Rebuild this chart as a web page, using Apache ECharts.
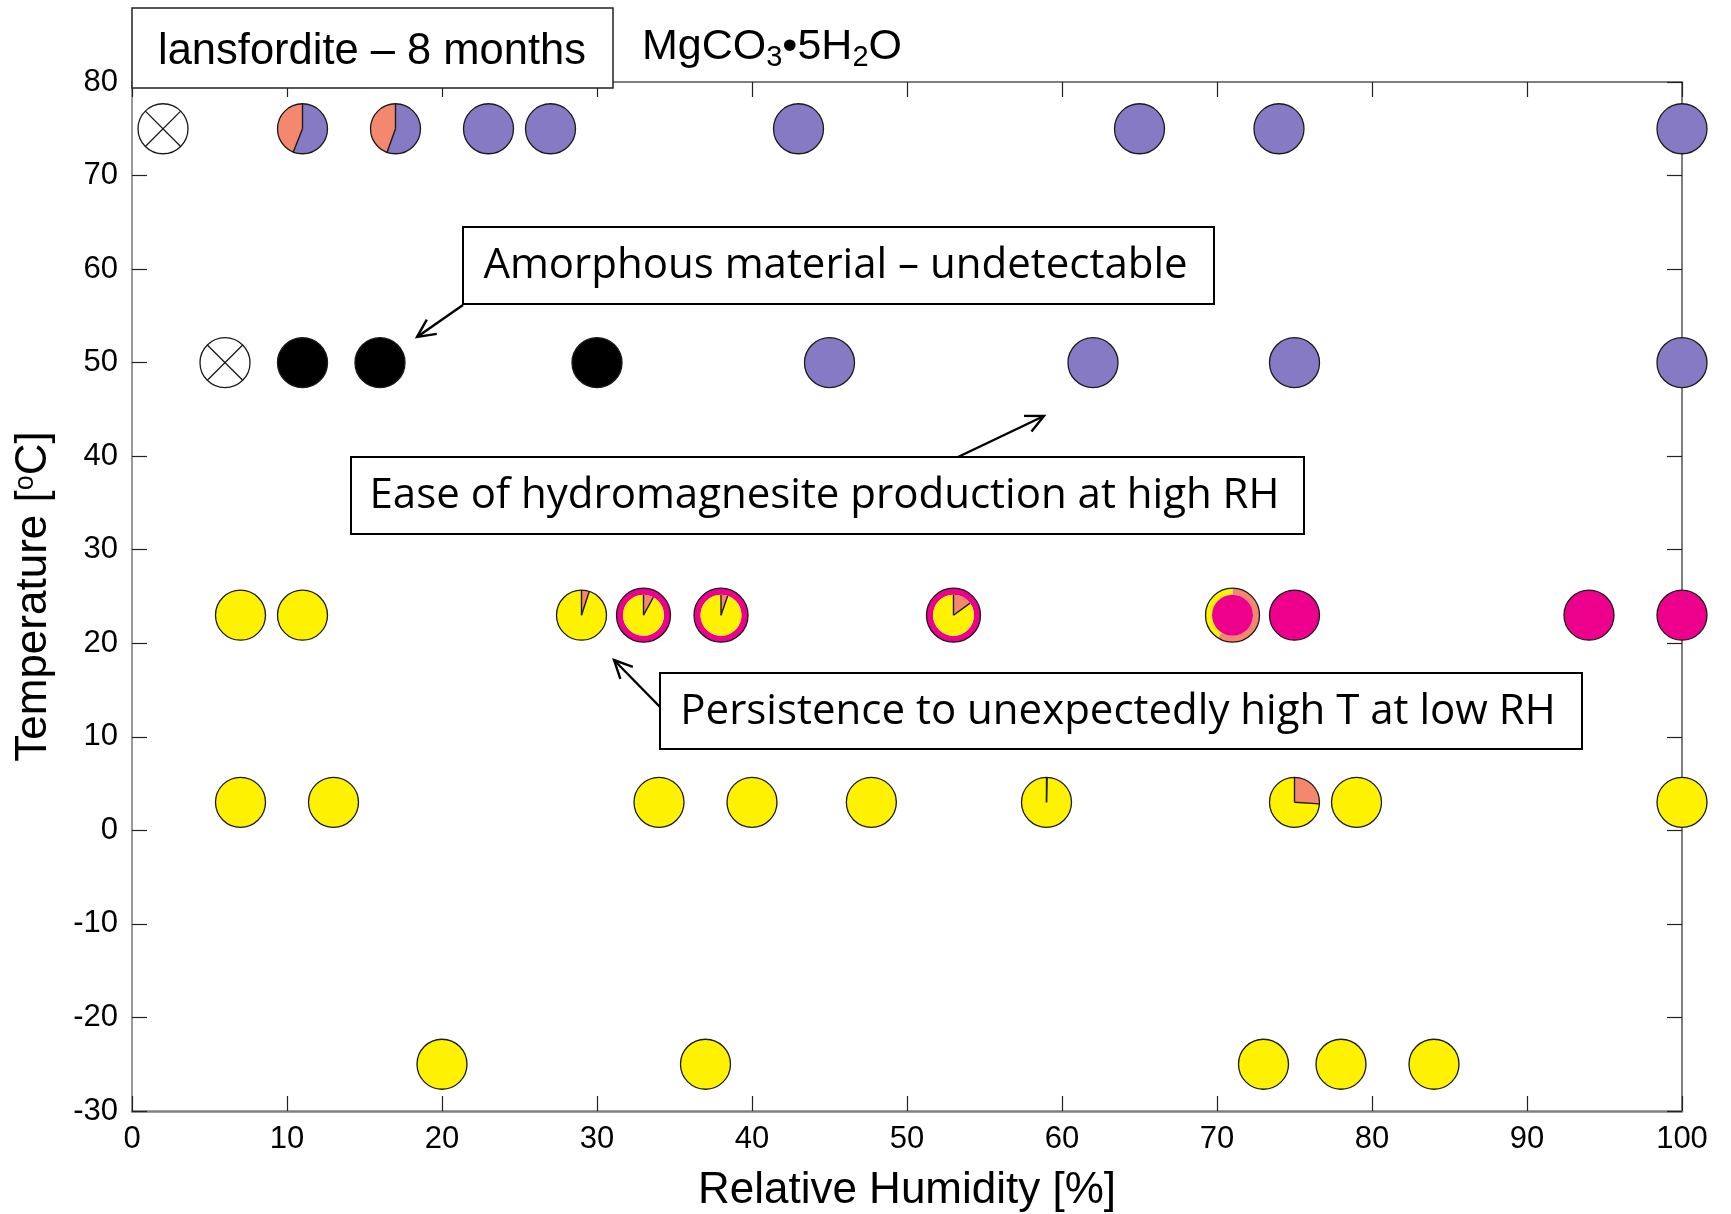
<!DOCTYPE html>
<html>
<head>
<meta charset="utf-8">
<title>lansfordite – 8 months</title>
<script src="https://cdn.jsdelivr.net/npm/echarts@6/dist/echarts.min.js"></script>
<style>
  html, body { margin: 0; padding: 0; background: #fff; }
  #chart { width: 1731px; height: 1214px; }
</style>
</head>
<body>
<div id="chart"></div>
<script>
// ------------------------------------------------------------------
// data — one row of samples per storage temperature
// ------------------------------------------------------------------
const tempRows = [75, 50, 23, 3, -25];

const rh75 = [2, 11, 17, 23, 27, 43, 65, 74, 100];
const rh50 = [6, 11, 16, 30, 45, 62, 75, 100];
const rh23 = [7, 11, 29, 33, 38, 53, 71, 75, 94, 100];
const rh3 = [7, 13, 34, 40, 47.7, 59, 75, 79, 100];
const rhMinus25 = [20, 37, 73, 78, 84];

// phase fractions, clockwise from 12 o'clock
// L lansfordite, N nesquehonite, D dypingite, H hydromagnesite, A amorphous, X no result
const pie75 = ['X', [['H', 0.56], ['D', 0.44]], [['H', 0.555], ['D', 0.445]], 'H', 'H', 'H', 'H', 'H', 'H'];
const pie50 = ['X', 'A', 'A', 'A', 'H', 'H', 'H', 'H'];
const pie23 = ['L', 'L', [['D', 0.05], ['L', 0.95]], [['D', 0.08], ['L', 0.92]], [['D', 0.053], ['L', 0.947]],
  [['D', 0.15], ['L', 0.85]], 'N', 'N', 'N', 'N'];
const pie3 = ['L', 'L', 'L', 'L', 'L', [['D', 0.004], ['L', 0.996]], [['D', 0.26], ['L', 0.74]], 'L', 'L'];
const pieMinus25 = ['L', 'L', 'L', 'L', 'L'];

// outer ring (surface phase) where present
const ring23 = [null, null, null, 'N', 'N', 'N', [['D', 0.59], ['L', 0.41]], null, null, null];

const rowRH = [rh75, rh50, rh23, rh3, rhMinus25];
const rowPies = [pie75, pie50, pie23, pie3, pieMinus25];
const rowRings = [[], [], ring23, [], []];

const phaseColors = {
  L: '#fff200',
  N: '#ec008c',
  D: '#f4886e',
  H: '#857ac3',
  A: '#000000',
  X: '#ffffff',
};

// ------------------------------------------------------------------
// build series data: [RH, T, row, col]
// ------------------------------------------------------------------
const points = [];
rowRH.forEach((list, row) => {
  list.forEach((rh, col) => points.push([rh, tempRows[row], row, col]));
});

function toSlices(spec) {
  if (typeof spec === 'string') return [[spec, 1]];
  return spec;
}

const EDGE = '#1a1a1a';

function addSlices(children, c, slices, r0, r) {
  let acc = 0;
  slices.forEach(([phase, frac]) => {
    const a0 = -Math.PI / 2 + 2 * Math.PI * acc;
    const a1 = -Math.PI / 2 + 2 * Math.PI * (acc + frac);
    acc += frac;
    children.push({
      type: 'sector',
      shape: { cx: c[0], cy: c[1], r0: r0, r: r, startAngle: a0, endAngle: a1, clockwise: true },
      style: { fill: phaseColors[phase], stroke: null, lineWidth: 0 },
    });
  });
}

function renderItem(params, api) {
  const row = api.value(2);
  const col = api.value(3);
  const c = api.coord([api.value(0), api.value(1)]);
  const pie = rowPies[row][col];
  const ring = rowRings[row][col];
  const R = ring ? 27 : 25;
  const r = ring ? 20.5 : R;
  const children = [];

  if (ring) addSlices(children, c, toSlices(ring), r, R);
  const slices = toSlices(pie);
  addSlices(children, c, slices, 0, r);

  // radial dividers of the pie
  if (slices.length > 1) {
    let acc = 0;
    slices.forEach(([, frac]) => {
      const a = -Math.PI / 2 + 2 * Math.PI * acc;
      acc += frac;
      children.push({
        type: 'line',
        shape: { x1: c[0], y1: c[1], x2: c[0] + r * Math.cos(a), y2: c[1] + r * Math.sin(a) },
        style: { stroke: EDGE, lineWidth: 1.4 },
      });
    });
  }

  // crossed circle = no result
  if (pie === 'X') {
    const d = R * Math.SQRT1_2;
    children.push(
      { type: 'line', shape: { x1: c[0] - d, y1: c[1] - d, x2: c[0] + d, y2: c[1] + d }, style: { stroke: EDGE, lineWidth: 1.3 } },
      { type: 'line', shape: { x1: c[0] - d, y1: c[1] + d, x2: c[0] + d, y2: c[1] - d }, style: { stroke: EDGE, lineWidth: 1.3 } }
    );
  }

  children.push({
    type: 'circle',
    shape: { cx: c[0], cy: c[1], r: R },
    style: { fill: null, stroke: EDGE, lineWidth: 1.3 },
  });

  return { type: 'group', children };
}

// ------------------------------------------------------------------
// annotations (page layout, pixels)
// ------------------------------------------------------------------
const notes = [
  { text: 'Amorphous material – undetectable', box: [463, 227, 751, 77], tail: [463, 305], tip: [417, 337] },
  { text: 'Ease of hydromagnesite production at high RH', box: [351, 457, 953, 77], tail: [958, 457], tip: [1044, 416] },
  { text: 'Persistence to unexpectedly high T at low RH', box: [660, 673, 922, 76], tail: [660, 707], tip: [614, 660] },
];

function arrowHead(tail, tip, len, ang) {
  const a = Math.atan2(tail[1] - tip[1], tail[0] - tip[0]);
  return [
    [tip[0] + len * Math.cos(a + ang), tip[1] + len * Math.sin(a + ang)],
    tip,
    [tip[0] + len * Math.cos(a - ang), tip[1] + len * Math.sin(a - ang)],
  ];
}

const graphics = [];
notes.forEach((n) => {
  const [x, y, w, h] = n.box;
  graphics.push({
    type: 'rect', z: 100,
    shape: { x, y, width: w, height: h },
    style: { fill: '#fff', stroke: '#000', lineWidth: 2 },
  });
  graphics.push({
    type: 'text', z: 101, x: x + w / 2 - 3, y: y + h / 2 + 1,
    style: {
      text: n.text, fill: '#000', font: '42px "Open Sans"',
      textAlign: 'center', textVerticalAlign: 'middle', align: 'center', verticalAlign: 'middle',
    },
  });
  graphics.push({
    type: 'polyline', z: 101,
    shape: { points: [n.tail, n.tip] },
    style: { stroke: '#000', lineWidth: 2.4, fill: null },
  });
  graphics.push({
    type: 'polyline', z: 101,
    shape: { points: arrowHead(n.tail, n.tip, 20, 0.45) },
    style: { stroke: '#000', lineWidth: 2.4, fill: null },
  });
});

// title box + formula
graphics.push({
  type: 'rect', z: 100,
  shape: { x: 132, y: 8, width: 481, height: 80 },
  style: { fill: '#fff', stroke: '#222', lineWidth: 1.5 },
});
graphics.push({
  type: 'text', z: 101, x: 372, y: 52,
  style: {
    text: 'lansfordite – 8 months', fill: '#000', font: '43.5px "Liberation Sans"',
    textAlign: 'center', textVerticalAlign: 'middle', align: 'center', verticalAlign: 'middle',
  },
});
graphics.push({
  type: 'text', z: 101, x: 642, y: 47,
  style: {
    text: 'MgCO{s|3}•5H{s|2}O', fill: '#000', font: '43px "Liberation Sans"',
    textAlign: 'left', textVerticalAlign: 'middle', align: 'left', verticalAlign: 'middle',
    lineHeight: 50,
    rich: {
      s: { fontSize: 29, fontFamily: 'Liberation Sans', lineHeight: 29, verticalAlign: 'bottom', fill: '#000' },
    },
  },
});

// ------------------------------------------------------------------
// axes
// ------------------------------------------------------------------
const FONT = 'Liberation Sans';
const tickStyle = { inside: true, length: 15, lineStyle: { color: '#222', width: 1.2 } };

const option = {
  animation: false,
  backgroundColor: '#fff',
  grid: { left: 132, right: 49, top: 82, bottom: 103, outerBoundsMode: 'none', containLabel: false },
  xAxis: [
    {
      type: 'value', min: 0, max: 100, interval: 10, position: 'bottom',
      axisLine: { onZero: false, lineStyle: { color: '#808080', width: 2.5 } },
      axisTick: tickStyle,
      axisLabel: { color: '#000', fontSize: 31, fontFamily: FONT, margin: 13 },
      splitLine: { show: false },
      name: 'Relative Humidity [%]', nameLocation: 'middle', nameGap: 58,
      nameTextStyle: { color: '#000', fontSize: 44, fontFamily: FONT },
    },
    {
      type: 'value', min: 0, max: 100, interval: 10, position: 'top',
      axisLine: { onZero: false, lineStyle: { color: '#555', width: 1.5 } },
      axisTick: tickStyle,
      axisLabel: { show: false },
      splitLine: { show: false },
    },
  ],
  yAxis: [
    {
      type: 'value', min: -30, max: 80, interval: 10, position: 'left',
      axisLine: { show: true, onZero: false, lineStyle: { color: '#777', width: 1.5 } },
      axisTick: { show: true, ...tickStyle },
      axisLabel: { color: '#000', fontSize: 31, fontFamily: FONT, margin: 14 },
      splitLine: { show: false },
      name: 'Temperature [{sup|o}C]', nameLocation: 'middle', nameGap: 76,
      nameTextStyle: {
        color: '#000', fontSize: 44, fontFamily: FONT,
        rich: { sup: { fontSize: 27, fontFamily: FONT, color: '#000', verticalAlign: 'top', lineHeight: 42 } },
      },
    },
    {
      type: 'value', min: -30, max: 80, interval: 10, position: 'right',
      axisLine: { show: true, onZero: false, lineStyle: { color: '#555', width: 1.5 } },
      axisTick: { show: true, ...tickStyle },
      axisLabel: { show: false },
      splitLine: { show: false },
    },
  ],
  series: [
    {
      type: 'custom',
      xAxisIndex: 0,
      yAxisIndex: 0,
      data: points,
      renderItem,
      silent: true,
      clip: false,
      z: 10,
    },
  ],
  graphic: { elements: graphics },
};

const chart = echarts.init(document.getElementById('chart'));
chart.setOption(option);
</script>
</body>
</html>
